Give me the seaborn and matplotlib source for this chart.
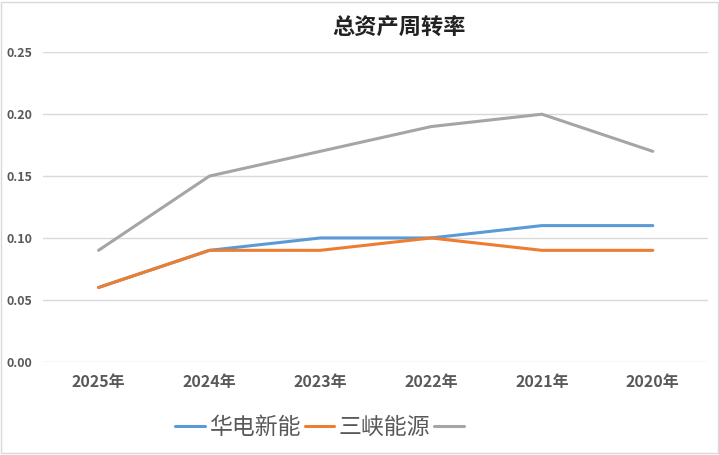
import matplotlib
matplotlib.use("Agg")
import matplotlib.pyplot as plt
import seaborn as sns
import pandas as pd
from matplotlib.lines import Line2D

years = ["2025年", "2024年", "2023年", "2022年", "2021年", "2020年"]
huadian = [0.06, 0.09, 0.10, 0.10, 0.11, 0.11]
sanxia = [0.06, 0.09, 0.09, 0.10, 0.09, 0.09]
third = [0.09, 0.15, 0.17, 0.19, 0.20, 0.17]
series_names = ["华电新能", "三峡能源", ""]
colors = ["#5B9BD5", "#ED7D31", "#A5A5A5"]

sns.set_theme(style="white")
plt.rcParams['font.family'] = ['Noto Sans CJK SC', 'DejaVu Sans']

df = pd.DataFrame({
    "year": years * 3,
    "value": huadian + sanxia + third,
    "series": ["s0"] * 6 + ["s1"] * 6 + ["s2"] * 6,
})

fig = plt.figure(figsize=(7.19, 4.55), dpi=100)
ax = fig.add_axes([0.06, 0.205, 0.925, 0.68])

sns.lineplot(data=df, x="year", y="value", hue="series", palette=colors,
             linewidth=2.2, ax=ax, legend=False, sort=False)

ax.set_xlim(-0.5, 5.5)
ax.set_ylim(0, 0.25)
ax.set_yticks([0, 0.05, 0.10, 0.15, 0.20, 0.25])
ax.set_yticklabels([f"{v:.2f}" for v in [0, 0.05, 0.10, 0.15, 0.20, 0.25]])
ax.yaxis.grid(True, color="#D9D9D9", linewidth=1)
ax.set_axisbelow(True)
for s in ax.spines.values():
    s.set_visible(False)
ax.set_xlabel("")
ax.set_ylabel("")
ax.tick_params(axis="both", length=0, colors="#595959")
for lab in ax.get_yticklabels():
    lab.set_fontsize(9)
    lab.set_fontweight("bold")
for lab in ax.get_xticklabels():
    lab.set_fontsize(11.5)
    lab.set_fontweight("bold")
ax.tick_params(axis="x", pad=9)
ax.tick_params(axis="y", pad=8)

fig.text(0.555, 0.94, "总资产周转率", ha="center", va="center", fontsize=16,
         fontweight="bold", color="#222222")

handles = [Line2D([], [], color=c, linewidth=2.2) for c in colors]
leg = fig.legend(handles, series_names, loc="center left",
                 bbox_to_anchor=(0.215, 0.06), ncol=3, frameon=False,
                 fontsize=16.5, handlelength=1.3, columnspacing=0.15,
                 handletextpad=0.2, labelcolor="#595959")

# light frame around the figure
fig.patches.append(plt.Rectangle((0.002, 0.004), 0.996, 0.992,
                                 transform=fig.transFigure, fill=False,
                                 edgecolor="#D9D9D9", linewidth=1))

fig.savefig("out.png", dpi=100, facecolor="white")
